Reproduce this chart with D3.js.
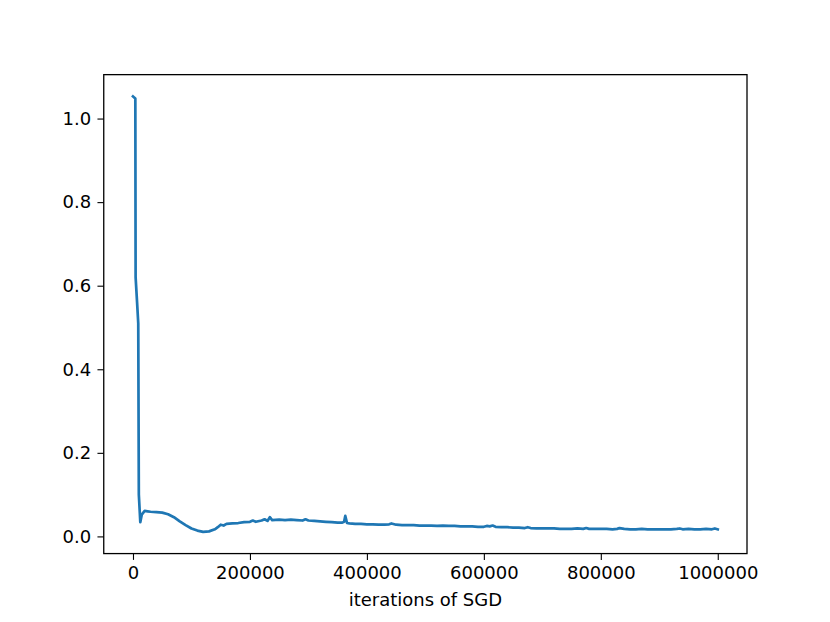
<!DOCTYPE html>
<html>
<head>
<meta charset="utf-8">
<script src="https://cdn.jsdelivr.net/npm/d3@7"></script>
<style>
  html, body { margin: 0; padding: 0; background: #fff; }
  svg { display: block; }
  text { font-family: "DejaVu Sans", sans-serif; fill: #000; }
</style>
</head>
<body>
<svg id="chart" width="830" height="622"></svg>
<script>
// iterations of SGD
const iterations = [
  0, 4000, 4500, 7000, 9000, 10000, 12500, 15000, 20000, 25000, 30000, 40000, 50000,
  60000, 70000, 80000, 90000, 100000, 110000, 120000, 130000, 140000, 145000,
  150000, 155000, 160000, 170000, 180000, 190000, 200000, 205000, 210000, 220000, 225000,
  230000, 234000, 238000, 250000, 260000, 270000, 280000, 290000, 295000, 300000,
  310000, 320000, 330000, 340000, 350000, 358000, 361000, 363000, 366000, 370000,
  380000, 390000, 400000, 410000, 420000, 430000, 438000, 442000, 450000, 460000,
  470000, 480000, 490000, 500000, 510000, 520000, 530000, 540000, 550000, 560000,
  570000, 580000, 590000, 600000, 605000, 610000, 615000, 620000, 630000, 640000,
  650000, 660000, 670000, 675000, 680000, 690000, 700000, 710000, 720000, 730000,
  740000, 750000, 760000, 770000, 775000, 780000, 790000, 800000, 810000, 820000,
  828000, 832000, 840000, 850000, 860000, 870000, 880000, 890000, 900000, 910000,
  920000, 930000, 935000, 940000, 950000, 960000, 970000, 980000, 990000, 995000, 1000000
];
const lossValues = [
  1.053, 1.048, 0.62, 0.56, 0.51, 0.10, 0.034, 0.052, 0.061, 0.060, 0.059, 0.058, 0.057,
  0.053, 0.046, 0.036, 0.027, 0.019, 0.014, 0.011, 0.012, 0.017, 0.022,
  0.028, 0.026, 0.030, 0.031, 0.032, 0.034, 0.035, 0.038, 0.035, 0.038, 0.041,
  0.037, 0.046, 0.039, 0.040, 0.039, 0.040, 0.039, 0.038, 0.041, 0.038,
  0.037, 0.036, 0.035, 0.034, 0.033, 0.033, 0.035, 0.049, 0.032, 0.031,
  0.030, 0.030, 0.029, 0.029, 0.028, 0.028, 0.029, 0.031, 0.028, 0.027,
  0.027, 0.027, 0.026, 0.026, 0.026, 0.025, 0.026, 0.025, 0.025, 0.024,
  0.024, 0.024, 0.023, 0.023, 0.025, 0.024, 0.026, 0.023, 0.022, 0.022,
  0.021, 0.021, 0.020, 0.022, 0.020, 0.019, 0.019, 0.019, 0.019, 0.018,
  0.018, 0.018, 0.019, 0.018, 0.020, 0.018, 0.018, 0.018, 0.018, 0.017,
  0.018, 0.020, 0.018, 0.017, 0.017, 0.018, 0.017, 0.017, 0.017, 0.017,
  0.017, 0.018, 0.019, 0.017, 0.018, 0.017, 0.017, 0.018, 0.017, 0.019, 0.017
];
const xTicks = [0, 200000, 400000, 600000, 800000, 1000000];
const yTicks = [0.0, 0.2, 0.4, 0.6, 0.8, 1.0];
const xLabel = "iterations of SGD";

(function () {
  const W = 830, H = 622;
  const mLeft = 0.125 * W, mRight = 0.9 * W, mTop = 0.12 * H, mBottom = 0.89 * H;
  const svg = d3.select("#chart");

  const xMin = d3.min(iterations), xMax = d3.max(iterations);
  const yMin = d3.min(lossValues), yMax = d3.max(lossValues);
  const xPad = (xMax - xMin) * 0.05, yPad = (yMax - yMin) * 0.05;
  const x = d3.scaleLinear().domain([xMin - xPad, xMax + xPad]).range([mLeft, mRight]);
  const y = d3.scaleLinear().domain([yMin - yPad, yMax + yPad]).range([mBottom, mTop]);

  const data = iterations.map((d, i) => ({ x: d, y: lossValues[i] }));

  const tickLen = 6.3, fontSize = 18;

  // line
  svg.append("path")
    .datum(data)
    .attr("fill", "none")
    .attr("stroke", "#1f77b4")
    .attr("stroke-width", 2.7)
    .attr("stroke-linejoin", "round")
    .attr("stroke-linecap", "square")
    .attr("d", d3.line().x(d => x(d.x)).y(d => y(d.y)));

  // axes
  const xAxis = d3.axisBottom(x).tickValues(xTicks).tickFormat(d3.format("d"))
    .tickSizeInner(tickLen).tickSizeOuter(0).tickPadding(6.3);
  const gx = svg.append("g").attr("transform", `translate(0,${mBottom})`).call(xAxis);
  const yAxis = d3.axisLeft(y).tickValues(yTicks).tickFormat(d3.format(".1f"))
    .tickSizeInner(tickLen).tickSizeOuter(0).tickPadding(6.3);
  const gy = svg.append("g").attr("transform", `translate(${mLeft},0)`).call(yAxis);

  [gx, gy].forEach(g => {
    g.select(".domain").remove();
    g.selectAll(".tick line").attr("stroke", "#000").attr("stroke-width", 1.1);
    g.selectAll(".tick text").attr("font-size", fontSize)
      .attr("font-family", "DejaVu Sans, sans-serif").attr("fill", "#000");
  });

  // frame
  svg.append("rect")
    .attr("x", mLeft).attr("y", mTop)
    .attr("width", mRight - mLeft).attr("height", mBottom - mTop)
    .attr("fill", "none").attr("stroke", "#000").attr("stroke-width", 1.3);

  // x label
  svg.append("text")
    .attr("x", (mLeft + mRight) / 2)
    .attr("y", 606)
    .attr("text-anchor", "middle")
    .attr("font-size", fontSize)
    .text(xLabel);
})();
</script>
</body>
</html>
